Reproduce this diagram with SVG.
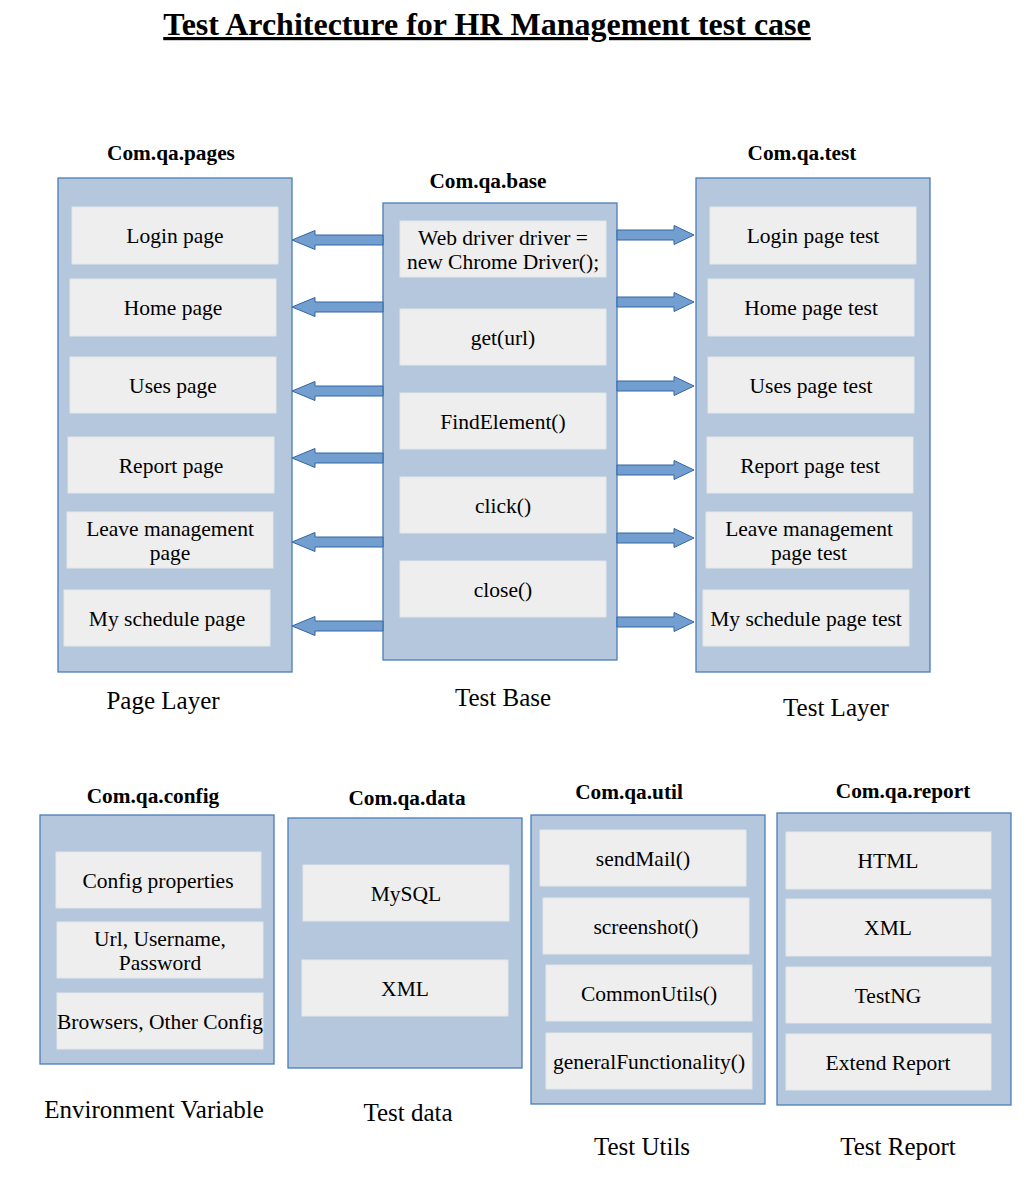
<svg xmlns="http://www.w3.org/2000/svg" width="1025" height="1186" viewBox="0 0 1025 1186">
  <style>
    .pkg { fill: #b4c7dc; stroke: #4a7ebb; stroke-width: 1.3; }
    .item { fill: #eeeeee; stroke: #e2e6ea; stroke-width: 1; }
    .txt { font-family: "Liberation Serif", "Times New Roman", serif; font-size: 21.5px; fill: #000; text-anchor: middle; }
    .hdr { font-family: "Liberation Serif", "Times New Roman", serif; font-size: 21.3px; font-weight: bold; fill: #000; text-anchor: middle; }
    .cap { font-family: "Liberation Serif", "Times New Roman", serif; font-size: 25px; fill: #000; text-anchor: middle; }
    .title { font-family: "Liberation Serif", "Times New Roman", serif; font-size: 32px; font-weight: bold; fill: #000; text-anchor: middle; text-decoration: underline; }
    .arrow { fill: #729fcf; stroke: #3465a4; stroke-width: 1; }
  </style>

  <text class="title" x="487" y="35">Test Architecture for HR Management test case</text>

  <!-- Page layer -->
  <g id="pages">
    <text class="hdr" x="171" y="160">Com.qa.pages</text>
    <rect class="pkg" x="58" y="178" width="234" height="494"/>
    <rect class="item" x="72" y="207" width="206" height="57"/>
    <text class="txt" x="175" y="243">Login page</text>
    <rect class="item" x="70" y="279" width="206" height="57"/>
    <text class="txt" x="173" y="315">Home page</text>
    <rect class="item" x="70" y="357" width="206" height="56"/>
    <text class="txt" x="173" y="393">Uses page</text>
    <rect class="item" x="68" y="437" width="206" height="56"/>
    <text class="txt" x="171" y="473">Report page</text>
    <rect class="item" x="67" y="512" width="206" height="56"/>
    <text class="txt" x="170" y="536">Leave management</text>
    <text class="txt" x="170" y="560">page</text>
    <rect class="item" x="64" y="590" width="206" height="56"/>
    <text class="txt" x="167" y="626">My schedule page</text>
    <text class="cap" x="163" y="709">Page Layer</text>
  </g>

  <!-- Base layer -->
  <g id="base">
    <text class="hdr" x="488" y="188">Com.qa.base</text>
    <rect class="pkg" x="383" y="203" width="234" height="457"/>
    <rect class="item" x="400" y="221" width="206" height="56"/>
    <text class="txt" x="503" y="245">Web driver driver =</text>
    <text class="txt" x="503" y="269">new Chrome Driver();</text>
    <rect class="item" x="400" y="309" width="206" height="56"/>
    <text class="txt" x="503" y="345">get(url)</text>
    <rect class="item" x="400" y="393" width="206" height="56"/>
    <text class="txt" x="503" y="429">FindElement()</text>
    <rect class="item" x="400" y="477" width="206" height="56"/>
    <text class="txt" x="503" y="513">click()</text>
    <rect class="item" x="400" y="561" width="206" height="56"/>
    <text class="txt" x="503" y="597">close()</text>
    <text class="cap" x="503" y="706">Test Base</text>
  </g>

  <!-- Test layer -->
  <g id="tests">
    <text class="hdr" x="802" y="160">Com.qa.test</text>
    <rect class="pkg" x="696" y="178" width="234" height="494"/>
    <rect class="item" x="710" y="207" width="206" height="57"/>
    <text class="txt" x="813" y="243">Login page test</text>
    <rect class="item" x="708" y="279" width="206" height="57"/>
    <text class="txt" x="811" y="315">Home page test</text>
    <rect class="item" x="708" y="357" width="206" height="56"/>
    <text class="txt" x="811" y="393">Uses page test</text>
    <rect class="item" x="707" y="437" width="206" height="56"/>
    <text class="txt" x="810" y="473">Report page test</text>
    <rect class="item" x="706" y="512" width="206" height="56"/>
    <text class="txt" x="809" y="536">Leave management</text>
    <text class="txt" x="809" y="560">page test</text>
    <rect class="item" x="703" y="590" width="206" height="56"/>
    <text class="txt" x="806" y="626">My schedule page test</text>
    <text class="cap" x="836" y="716">Test Layer</text>
  </g>

  <!-- Config -->
  <g id="config">
    <text class="hdr" x="153" y="803">Com.qa.config</text>
    <rect class="pkg" x="40" y="815" width="234" height="249"/>
    <rect class="item" x="56" y="852" width="205" height="56"/>
    <text class="txt" x="158" y="888">Config properties</text>
    <rect class="item" x="57" y="922" width="206" height="56"/>
    <text class="txt" x="160" y="946">Url, Username,</text>
    <text class="txt" x="160" y="970">Password</text>
    <rect class="item" x="57" y="993" width="206" height="56"/>
    <text class="txt" x="160" y="1029">Browsers, Other Config</text>
    <text class="cap" x="154" y="1118">Environment Variable</text>
  </g>

  <!-- Data -->
  <g id="data">
    <text class="hdr" x="407" y="805">Com.qa.data</text>
    <rect class="pkg" x="288" y="818" width="234" height="250"/>
    <rect class="item" x="303" y="865" width="206" height="56"/>
    <text class="txt" x="406" y="901">MySQL</text>
    <rect class="item" x="302" y="960" width="206" height="56"/>
    <text class="txt" x="405" y="996">XML</text>
    <text class="cap" x="408" y="1121">Test data</text>
  </g>

  <!-- Utilities -->
  <g id="util">
    <text class="hdr" x="629" y="799">Com.qa.util</text>
    <rect class="pkg" x="531" y="815" width="234" height="289"/>
    <rect class="item" x="540" y="830" width="206" height="56"/>
    <text class="txt" x="643" y="866">sendMail()</text>
    <rect class="item" x="543" y="898" width="206" height="56"/>
    <text class="txt" x="646" y="934">screenshot()</text>
    <rect class="item" x="546" y="965" width="206" height="56"/>
    <text class="txt" x="649" y="1001">CommonUtils()</text>
    <rect class="item" x="546" y="1033" width="206" height="56"/>
    <text class="txt" x="649" y="1069">generalFunctionality()</text>
    <text class="cap" x="642" y="1155">Test Utils</text>
  </g>

  <!-- Reporting -->
  <g id="report">
    <text class="hdr" x="903" y="798">Com.qa.report</text>
    <rect class="pkg" x="777" y="813" width="234" height="292"/>
    <rect class="item" x="786" y="832" width="205" height="57"/>
    <text class="txt" x="888" y="868">HTML</text>
    <rect class="item" x="786" y="899" width="205" height="57"/>
    <text class="txt" x="888" y="935">XML</text>
    <rect class="item" x="786" y="967" width="205" height="56"/>
    <text class="txt" x="888" y="1003">TestNG</text>
    <rect class="item" x="786" y="1034" width="205" height="56"/>
    <text class="txt" x="888" y="1070">Extend Report</text>
    <text class="cap" x="898" y="1155">Test Report</text>
  </g>

  <!-- Block arrows: base to pages (left) and base to tests (right) -->
  <g id="connectors">
    <path class="arrow" d="M383,235 L315,235 L315,230.5 L292,240 L315,249.5 L315,245 L383,245 Z"/>
    <path class="arrow" d="M383,302 L315,302 L315,297.5 L292,307 L315,316.5 L315,312 L383,312 Z"/>
    <path class="arrow" d="M383,386 L315,386 L315,381.5 L292,391 L315,400.5 L315,396 L383,396 Z"/>
    <path class="arrow" d="M383,453 L315,453 L315,448.5 L292,458 L315,467.5 L315,463 L383,463 Z"/>
    <path class="arrow" d="M383,537 L315,537 L315,532.5 L292,542 L315,551.5 L315,547 L383,547 Z"/>
    <path class="arrow" d="M383,621 L315,621 L315,616.5 L292,626 L315,635.5 L315,631 L383,631 Z"/>

    <path class="arrow" d="M617,230 L674,230 L674,225.5 L694,235 L674,244.5 L674,240 L617,240 Z"/>
    <path class="arrow" d="M617,297 L674,297 L674,292.5 L694,302 L674,311.5 L674,307 L617,307 Z"/>
    <path class="arrow" d="M617,381 L674,381 L674,376.5 L694,386 L674,395.5 L674,391 L617,391 Z"/>
    <path class="arrow" d="M617,465 L674,465 L674,460.5 L694,470 L674,479.5 L674,475 L617,475 Z"/>
    <path class="arrow" d="M617,533 L674,533 L674,528.5 L694,538 L674,547.5 L674,543 L617,543 Z"/>
    <path class="arrow" d="M617,617 L674,617 L674,612.5 L694,622 L674,631.5 L674,627 L617,627 Z"/>
  </g>
</svg>
